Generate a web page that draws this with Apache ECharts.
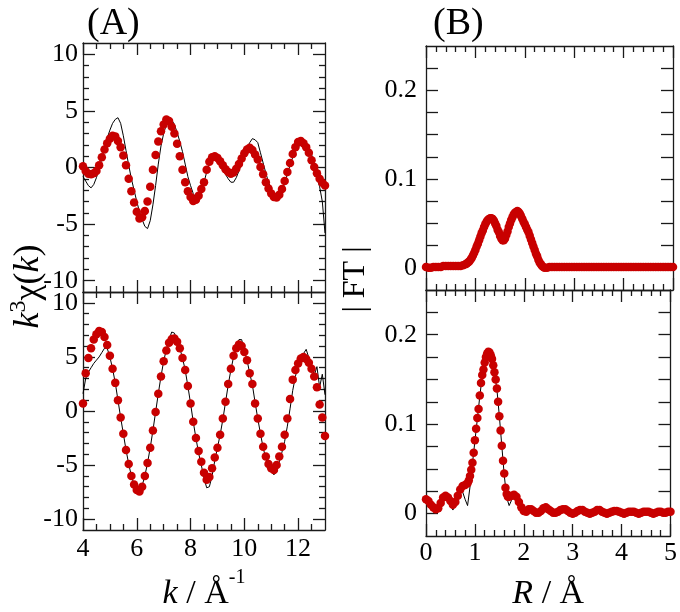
<!DOCTYPE html>
<html>
<head>
<meta charset="utf-8">
<script src="https://cdn.jsdelivr.net/npm/echarts@6.0.0/dist/echarts.min.js"></script>
<style>html,body{margin:0;padding:0;background:#fff;}#chart{width:680px;height:612px;}</style>
</head>
<body>
<div id="chart"></div>
<script>
// ---------------- data ----------------
const kValues = [4.0,4.1,4.2,4.3,4.4,4.5,4.6,4.7,4.8,4.9,5.0,5.1,5.2,5.3,5.4,5.5,5.6,5.7,5.8,5.9,6.0,6.1,6.2,6.3,6.4,6.5,6.6,6.7,6.8,6.9,7.0,7.1,7.2,7.3,7.4,7.5,7.6,7.7,7.8,7.9,8.0,8.1,8.2,8.3,8.4,8.5,8.6,8.7,8.8,8.9,9.0,9.1,9.2,9.3,9.4,9.5,9.6,9.7,9.8,9.9,10.0,10.1,10.2,10.3,10.4,10.5,10.6,10.7,10.8,10.9,11.0,11.1,11.2,11.3,11.4,11.5,11.6,11.7,11.8,11.9,12.0,12.1,12.2,12.3,12.4,12.5,12.6,12.7,12.8,12.9,13.0];

const chiTopExp = [-0.8,-1.2,-1.6,-1.8,-1.5,-0.9,-0.1,0.8,1.7,2.6,
  3.3,3.9,4.25,4.4,3.9,2.8,1.5,0.2,-1.0,-2.0,
  -3.0,-3.9,-4.6,-5.2,-5.4,-4.7,-3.3,-1.6,0.3,1.9,
  3.0,3.8,4.3,4.2,3.8,3.1,2.3,1.4,0.3,-0.8,
  -1.6,-2.3,-2.7,-2.6,-2.1,-1.3,-0.4,0.3,0.7,0.85,
  0.65,0.3,-0.15,-0.6,-1.0,-1.3,-1.3,-0.9,-0.3,0.4,
  1.1,1.7,2.2,2.55,2.45,2.2,1.3,0.4,-0.5,-1.3,
  -1.9,-2.4,-2.65,-2.6,-2.1,-1.4,-0.6,0.2,0.9,1.4,
  1.8,2.0,1.85,2.1,1.8,1.2,0.1,-0.9,-1.7,-3.0,
  -5.8];
const chiTopFit = [0.1,-0.3,-0.55,-0.6,-0.5,-0.3,0.2,0.9,1.6,2.15,
  2.55,2.8,2.75,2.35,1.8,1.05,0.2,-1.0,-2.1,-3.1,
  -3.9,-4.5,-4.4,-3.85,-3.0,-1.7,-0.2,1.1,2.3,3.2,
  3.8,4.25,4.1,3.6,3.0,2.1,1.0,-0.2,-1.3,-2.1,
  -2.6,-2.95,-2.85,-2.5,-1.9,-1.3,-0.2,0.5,0.9,1.0,
  0.85,0.55,0.2,-0.15,-0.4,-0.55,-0.45,-0.1,0.3,0.8,
  1.25,1.6,1.75,1.55,1.15,0.7,0.05,-0.6,-1.3,-1.85,
  -2.3,-2.6,-2.65,-2.4,-1.9,-1.2,-0.4,0.4,1.2,1.8,
  2.25,2.35,2.15,1.8,1.3,0.65,0.05,-0.5,-1.0,-1.35,
  -1.6];
const chiBotExp = [1.6,3.0,3.6,4.0,4.4,4.7,5.0,5.4,5.8,5.8,
  5.0,3.9,2.6,1.0,-0.6,-2.1,-3.6,-4.9,-6.0,-6.8,
  -7.2,-7.3,-6.9,-6.0,-4.8,-3.4,-1.8,-0.1,1.6,3.2,
  4.6,5.7,6.6,7.3,7.2,6.5,5.8,4.9,3.8,2.3,
  0.7,-1.0,-2.5,-3.9,-5.0,-6.2,-7.1,-7.0,-6.0,-4.6,
  -3.4,-2.2,-0.8,0.8,2.4,3.8,5.0,5.9,6.6,6.6,
  5.6,4.7,3.5,2.4,0.8,-0.7,-2.1,-3.4,-4.4,-5.1,
  -5.6,-5.9,-5.6,-4.7,-3.8,-2.8,-1.4,0.2,1.9,3.2,
  4.2,4.7,5.3,5.7,4.9,4.3,3.3,4.1,2.2,3.4,
  1.5];
const chiBotFit = [0.7,3.5,4.9,5.8,6.6,7.1,7.4,7.3,6.85,6.1,
  5.1,3.9,2.6,1.0,-0.6,-2.1,-3.6,-4.9,-6.0,-6.8,
  -7.3,-7.45,-7.0,-6.0,-4.8,-3.4,-1.8,-0.1,1.6,3.2,
  4.6,5.6,6.3,6.65,6.7,6.4,5.8,4.9,3.8,2.3,
  0.7,-1.0,-2.5,-3.7,-4.7,-5.7,-6.35,-6.1,-5.3,-4.3,
  -3.4,-2.2,-0.7,0.85,2.5,3.9,5.1,5.8,6.15,6.0,
  5.45,4.7,3.5,2.5,0.7,-0.7,-2.1,-3.3,-4.2,-4.9,
  -5.3,-5.45,-5.0,-4.2,-3.3,-2.2,-0.7,1.1,2.9,3.8,
  4.4,4.85,5.0,4.8,4.45,3.9,3.2,2.2,0.6,-0.6,
  -2.3];

const rValues = [0,0.05,0.1,0.15,0.2,0.25,0.3,0.35,0.4,0.45,
  0.5,0.55,0.6,0.65,0.7,0.75,0.8,0.85,0.9,0.95,
  1.0,1.05,1.1,1.15,1.2,1.25,1.3,1.35,1.4,1.45,
  1.5,1.55,1.6,1.65,1.7,1.75,1.8,1.85,1.9,1.95,
  2.0,2.05,2.1,2.15,2.2,2.25,2.3,2.35,2.4,2.45,
  2.5,2.55,2.6,2.65,2.7,2.75,2.8,2.85,2.9,2.95,
  3.0,3.05,3.1,3.15,3.2,3.25,3.3,3.35,3.4,3.45,
  3.5,3.55,3.6,3.65,3.7,3.75,3.8,3.85,3.9,3.95,
  4.0,4.05,4.1,4.15,4.2,4.25,4.3,4.35,4.4,4.45,
  4.5,4.55,4.6,4.65,4.7,4.75,4.8,4.85,4.9,4.95,
  5.0];
const rFitTopValues = [0,0.05,0.1,0.15,0.2,0.25,0.3,0.35,0.4,0.45,0.5,0.55,0.6,0.65,0.7,0.75,0.8,
  0.825,0.85,0.875,0.9,0.925,0.95,0.975,1.0,1.025,1.05,1.075,1.1,1.125,1.15,1.175,1.2,
  1.225,1.25,1.275,1.3,1.325,1.35,1.375,1.4,1.425,1.45,1.475,1.5,1.525,1.55,1.575,1.6,
  1.625,1.65,1.675,1.7,1.725,1.75,1.775,1.8,1.825,1.85,1.875,1.9,1.925,1.95,1.975,2.0,
  2.025,2.05,2.075,2.1,2.125,2.15,2.175,2.2,2.225,2.25,2.275,2.3,2.325,2.35,2.375,2.4,
  2.45,2.5,2.55,2.6,2.65,2.7,2.75,2.8,2.85,2.9,2.95,
  3.0,3.05,3.1,3.15,3.2,3.25,3.3,3.35,3.4,3.45,
  3.5,3.55,3.6,3.65,3.7,3.75,3.8,3.85,3.9,3.95,
  4.0,4.05,4.1,4.15,4.2,4.25,4.3,4.35,4.4,4.45,
  4.5,4.55,4.6,4.65,4.7,4.75,4.8,4.85,4.9,4.95,
  5.0];
const rFitBotValues = [0,0.05,0.1,0.15,0.2,0.25,0.3,0.35,0.4,0.45,0.5,0.55,0.6,0.65,0.7,0.75,0.8,0.85,
  0.875,0.9,0.925,0.95,0.975,1.0,1.025,1.05,1.075,1.1,1.125,1.15,1.175,1.2,1.225,1.25,1.275,1.3,
  1.325,1.35,1.375,1.4,1.425,1.45,1.475,1.5,1.525,1.55,1.575,1.6,1.625,1.65,1.675,1.7,
  1.75,1.8,1.85,1.9,1.95,
  2.0,2.05,2.1,2.15,2.2,2.25,2.3,2.35,2.4,2.45,
  2.5,2.55,2.6,2.65,2.7,2.75,2.8,2.85,2.9,2.95,
  3.0,3.05,3.1,3.15,3.2,3.25,3.3,3.35,3.4,3.45,
  3.5,3.55,3.6,3.65,3.7,3.75,3.8,3.85,3.9,3.95,
  4.0,4.05,4.1,4.15,4.2,4.25,4.3,4.35,4.4,4.45,
  4.5,4.55,4.6,4.65,4.7,4.75,4.8,4.85,4.9,4.95,
  5.0];

const ftTopExp = [0.001,0.000,0.000,0.000,0.001,0.001,0.001,0.001,0.002,0.002,
  0.002,0.002,0.002,0.002,0.002,0.002,0.003,0.005,0.009,0.014,
  0.020,0.028,0.036,0.044,0.051,0.056,0.058,0.056,0.050,0.042,
  0.034,0.027,0.029,0.040,0.051,0.059,0.064,0.066,0.062,0.056,
  0.049,0.042,0.035,0.027,0.019,0.012,0.006,0.002,0.000,0.000,
  0.001,0.001,0.000,0.001,0.001,0.001,0.002,0.001,0.001,0.001,
  0.001,0.001,0.001,0.000,0.001,0.001,0.001,0.001,0.001,0.001,
  0.001,0.001,0.001,0.001,0.000,0.001,0.001,0.001,0.001,0.001,
  0.001,0.001,0.001,0.001,0.001,0.001,0.000,0.001,0.001,0.001,
  0.001,0.001,0.001,0.001,0.001,0.001,0.001,0.001,0.001,0.001,
  0.001];
const ftTopFit = [0.001,0.000,0.000,0.001,0.001,0.001,0.001,0.002,0.002,0.002,0.002,0.002,0.002,0.002,0.002,0.003,0.004,
  0.005,0.006,0.007,0.009,0.011,0.014,0.017,0.020,0.024,0.027,0.031,0.035,0.039,0.042,0.046,0.049,
  0.052,0.054,0.055,0.056,0.056,0.055,0.053,0.050,0.047,0.043,0.040,0.036,0.033,0.031,0.031,0.033,
  0.037,0.041,0.046,0.050,0.054,0.057,0.060,0.062,0.063,0.064,0.063,0.061,0.058,0.055,0.052,0.049,
  0.046,0.043,0.040,0.036,0.032,0.028,0.024,0.020,0.016,0.013,0.009,0.006,0.004,0.002,0.001,0.000,
  0.000,0.001,0.001,0.001,0.001,0.001,0.001,0.001,0.001,0.001,0.001,
  0.001,0.001,0.001,0.001,0.001,0.001,0.001,0.001,0.001,0.001,
  0.001,0.001,0.001,0.001,0.001,0.001,0.001,0.001,0.001,0.001,
  0.001,0.001,0.001,0.001,0.001,0.001,0.001,0.001,0.001,0.001,
  0.001,0.001,0.001,0.001,0.001,0.001,0.001,0.001,0.001,0.001,
  0.001];
const ftBotExp = [0.015,0.012,0.008,0.005,0.004,0.006,0.012,0.018,0.020,0.017,
  0.010,0.004,0.010,0.019,0.024,0.024,0.016,0.009,0.030,0.056,
  0.081,0.106,0.131,0.154,0.169,0.178,0.180,0.173,0.158,0.139,
  0.109,0.076,0.043,0.018,0.009,0.015,0.020,0.018,0.012,0.006,
  0.002,0.002,0.004,0.005,0.003,0.001,0.001,0.003,0.006,0.007,
  0.005,0.002,0.001,0.000,0.002,0.004,0.005,0.004,0.002,0.000,
  0.000,0.001,0.003,0.004,0.004,0.002,0.001,0.000,0.001,0.002,
  0.004,0.004,0.002,0.001,0.000,0.001,0.002,0.003,0.003,0.002,
  0.001,0.000,0.001,0.002,0.002,0.002,0.001,0.000,0.001,0.002,
  0.002,0.002,0.001,0.000,0.001,0.002,0.002,0.001,0.001,0.002,
  0.002];
const ftBotFit = [0.016,0.014,0.010,0.007,0.005,0.006,0.012,0.018,0.020,0.018,0.014,0.010,0.013,0.020,0.027,0.031,0.032,0.034,
  0.037,0.042,0.049,0.057,0.068,0.082,0.095,0.107,0.117,0.132,0.146,0.155,0.161,0.169,0.175,0.179,0.181,0.180,
  0.177,0.173,0.166,0.158,0.150,0.140,0.125,0.109,0.093,0.076,0.059,0.045,0.029,0.022,0.019,0.019,
  0.020,0.021,0.019,0.013,0.007,
  0.003,0.002,0.005,0.005,0.003,0.001,0.001,0.003,0.006,0.007,
  0.005,0.003,0.001,0.001,0.002,0.004,0.005,0.005,0.003,0.001,
  0.000,0.001,0.003,0.004,0.004,0.002,0.001,0.000,0.001,0.002,
  0.004,0.004,0.002,0.001,0.000,0.001,0.002,0.003,0.003,0.002,
  0.001,0.000,0.001,0.002,0.002,0.002,0.001,0.000,0.001,0.002,
  0.002,0.002,0.001,0.000,0.001,0.002,0.002,0.001,0.001,0.002,
  0.002];

// tick positions / labels
const kMajorTicks = [4,6,8,10,12];
const kMinorTicks = [4.5,5,5.5,6.5,7,7.5,8.5,9,9.5,10.5,11,11.5,12.5];
const rMajorTicks = [0,1,2,3,4,5];
const rMinorTicks = [0.2,0.4,0.6,0.8,1.2,1.4,1.6,1.8,2.2,2.4,2.6,2.8,3.2,3.4,3.6,3.8,4.2,4.4,4.6,4.8];
const chiMajorTicks = [-10,-5,0,5,10];
const chiMinorTicks = [-9,-8,-7,-6,-4,-3,-2,-1,1,2,3,4,6,7,8,9];
const ftTicks = [0,0.025,0.05,0.075,0.1,0.125,0.15,0.175,0.2,0.225];
const ftLabels = [0,0.1,0.2];

// ---------------- styling / layout ----------------
const FONT = 'Liberation Serif';
const AX = {color:'#1a1a1a', width:1.3};
const RED = '#c80000';

const KNAME_STYLE = {
  fontFamily: FONT, fontSize: 34, color: '#000',
  rich: {
    i: {fontFamily: FONT, fontSize: 34, fontStyle: 'italic', color: '#000', lineHeight: 43, verticalAlign: 'bottom'},
    n: {fontFamily: FONT, fontSize: 34, color: '#000', lineHeight: 43, verticalAlign: 'bottom'},
    s: {fontFamily: FONT, fontSize: 20, color: '#000', lineHeight: 20, verticalAlign: 'top'}
  }
};
const RNAME_STYLE = {
  fontFamily: FONT, fontSize: 34, color: '#000',
  rich: {
    i: {fontFamily: FONT, fontSize: 34, fontStyle: 'italic', color: '#000', lineHeight: 34},
    n: {fontFamily: FONT, fontSize: 34, color: '#000', lineHeight: 34}
  }
};
const CHI_STYLE = {
  fontFamily: FONT, fontSize: 36, color: '#000',
  rich: {
    i: {fontFamily: FONT, fontSize: 36, fontStyle: 'italic', color: '#000', lineHeight: 40, verticalAlign: 'bottom'},
    n: {fontFamily: FONT, fontSize: 36, color: '#000', lineHeight: 40, verticalAlign: 'bottom'},
    s: {fontFamily: FONT, fontSize: 24, color: '#000', lineHeight: 24, verticalAlign: 'top'}
  }
};
const FT_STYLE = {fontFamily: FONT, fontSize: 32, color: '#000'};

const panels = [
  {grid:{left:83, top:43, width:242, height:249}, x:[4,13], y:[-11,11],
   xMaj:kMajorTicks, xMin:kMinorTicks, yMaj:chiMajorTicks, yMin:chiMinorTicks, yLab:chiMajorTicks,
   xLabels:false, yMargin:5, exp:[kValues, chiTopExp], fit:[kValues, chiTopFit]},
  {grid:{left:83, top:292, width:242, height:244}, x:[4,13], y:[-11,11],
   xMaj:kMajorTicks, xMin:kMinorTicks, yMaj:chiMajorTicks, yMin:chiMinorTicks, yLab:chiMajorTicks,
   xLabels:true, xMargin:6, xName:'{i|k}{n| / Å}{s|-1}', xNameGap:38, xNameStyle:KNAME_STYLE,
   yMargin:5, exp:[kValues, chiBotExp], fit:[kValues, chiBotFit]},
  {grid:{left:426, top:46, width:247, height:244}, x:[0,5], y:[-0.025,0.25],
   xMaj:rMajorTicks, xMin:rMinorTicks, yMaj:ftTicks, yMin:null, yLab:ftLabels,
   xLabels:false, yMargin:9, exp:[rValues, ftTopExp], fit:[rFitTopValues, ftTopFit]},
  {grid:{left:426, top:290, width:247, height:249}, x:[0,5], y:[-0.025,0.25],
   xMaj:rMajorTicks, xMin:rMinorTicks, yMaj:ftTicks, yMin:null, yLab:ftLabels,
   xLabels:true, xMargin:4, xName:'{i|R}{n| / Å}', xNameGap:41, xNameStyle:RNAME_STYLE,
   yMargin:9, exp:[rValues, ftBotExp], fit:[rFitBotValues, ftBotFit]}
];

const grids = [], xAxes = [], yAxes = [], series = [];
panels.forEach((p, g) => {
  grids.push(Object.assign({containLabel:false}, p.grid));
  const xi = xAxes.length, yi = yAxes.length;
  ['bottom','top'].forEach(pos => {
    xAxes.push({gridIndex:g, type:'value', min:p.x[0], max:p.x[1], position:pos,
      splitLine:{show:false},
      axisLine:{show:true, onZero:false, lineStyle:AX},
      axisTick:{show:true, inside:true, length:12, customValues:p.xMaj, lineStyle:AX},
      axisLabel:{show:!!(p.xLabels && pos==='bottom'), customValues:p.xMaj, fontFamily:FONT, fontSize:26, color:'#000', margin:p.xMargin || 6},
      name:(pos==='bottom' && p.xName) ? p.xName : '', nameLocation:'middle', nameGap:p.xNameGap || 30,
      nameTextStyle:p.xNameStyle || {}});
    xAxes.push({gridIndex:g, type:'value', min:p.x[0], max:p.x[1], position:pos,
      splitLine:{show:false},
      axisLine:{show:false, onZero:false},
      axisTick:{show:true, inside:true, length:6, customValues:p.xMin, lineStyle:AX},
      axisLabel:{show:false}});
  });
  ['left','right'].forEach(pos => {
    yAxes.push({gridIndex:g, type:'value', min:p.y[0], max:p.y[1], position:pos,
      splitLine:{show:false},
      axisLine:{show:true, onZero:false, lineStyle:AX},
      axisTick:{show:true, inside:true, length:12, customValues:p.yMaj, lineStyle:AX},
      axisLabel:{show:pos==='left', customValues:p.yLab, fontFamily:FONT, fontSize:26, color:'#000', margin:p.yMargin}});
    yAxes.push({gridIndex:g, type:'value', min:p.y[0], max:p.y[1], position:pos,
      splitLine:{show:false},
      axisLine:{show:false, onZero:false},
      axisTick:{show:!!p.yMin, inside:true, length:6, customValues:p.yMin || undefined, lineStyle:AX},
      axisLabel:{show:false}});
  });
  series.push({type:'line', xAxisIndex:xi, yAxisIndex:yi,
    data:p.exp[0].map((v, i) => [v, p.exp[1][i]]),
    symbol:'none', showSymbol:false, lineStyle:{color:'#000', width:1}, z:2, silent:true});
  series.push({type:'scatter', xAxisIndex:xi, yAxisIndex:yi,
    data:p.fit[0].map((v, i) => [v, p.fit[1][i]]),
    symbolSize:8.5, itemStyle:{color:RED, opacity:1}, z:3, clip:false, silent:true});
});

// hidden column grids carrying the shared y-axis titles
grids.push({left:83, top:43, width:242, height:487});
grids.push({left:426, top:46, width:247, height:467});
[4,5].forEach(g => {
  xAxes.push({gridIndex:g, type:'value', show:false});
  yAxes.push({gridIndex:g, type:'value', show:true, position:'left',
    axisLine:{show:false}, axisTick:{show:false}, axisLabel:{show:false}, splitLine:{show:false},
    name: g === 4 ? '{i|k}{s|3}{n|χ(}{i|k}{n|)}' : '| FT |',
    nameLocation:'middle', nameRotate:90, nameGap: g === 4 ? 36 : 54,
    nameTextStyle: g === 4 ? CHI_STYLE : FT_STYLE});
});

const option = {
  animation:false,
  backgroundColor:'#fff',
  textStyle:{fontFamily:FONT},
  title:[
    {text:'(A)', left:82, top:0, textStyle:{fontFamily:FONT, fontSize:38, fontWeight:'normal', color:'#000'}},
    {text:'(B)', left:428, top:0, textStyle:{fontFamily:FONT, fontSize:38, fontWeight:'normal', color:'#000'}}
  ],
  grid:grids, xAxis:xAxes, yAxis:yAxes, series:series
};

const chart = echarts.init(document.getElementById('chart'), null, {renderer:'canvas'});
chart.setOption(option);
</script>
</body>
</html>
